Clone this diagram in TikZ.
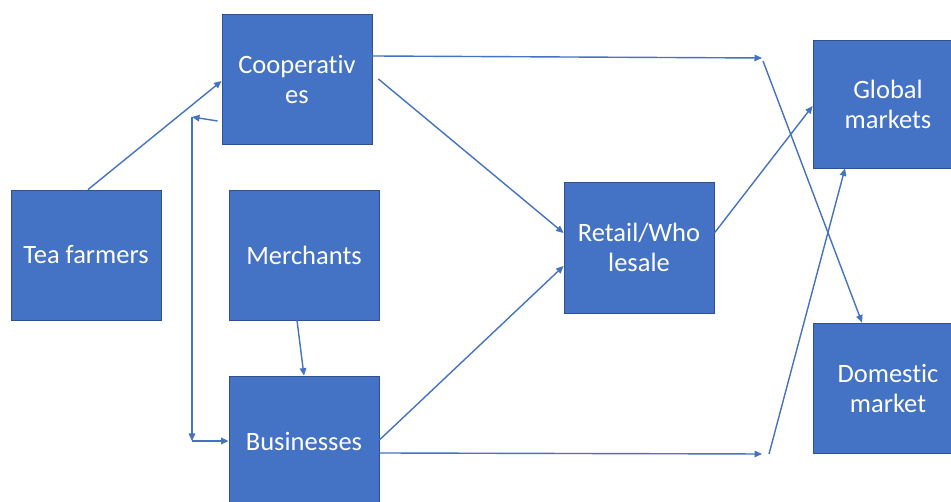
\documentclass[tikz,border=0pt]{standalone}
\usepackage{fontspec}
\setmainfont{Carlito}[Ligatures={NoCommon,NoDiscretionary}]
\usetikzlibrary{arrows.meta}
\definecolor{boxfill}{HTML}{4472C4}
\definecolor{boxedge}{HTML}{2F528F}
\definecolor{flow}{HTML}{4472C4}
\begin{document}
\begin{tikzpicture}[x=1pt,y=1pt,
  block/.style={draw=boxedge, line width=0.8pt, fill=boxfill, text=white,
    minimum width=150pt, minimum height=130pt, inner sep=0pt, align=center,
    font=\fontsize{26.5}{30}\selectfont},
  flowline/.style={draw=flow, line width=1.4pt,
    -{Triangle[length=7.5pt,width=6.5pt]}}]
\useasboundingbox (0,0) rectangle (951,502);
\clip (0,0) rectangle (951,502);
\fill[white] (0,0) rectangle (951,502);

% organisations in the chain
\node[block] (coop)   at (297,423) {Cooperativ\\es};
\node[block] (farm)   at (86,247)  {Tea farmers};
\node[block] (merch)  at (304,247) {Merchants};
\node[block] (bus)    at (304,61)  {Businesses};
\node[block, minimum height=131pt] (retail) at (639,254.5) {Retail/Who\\lesale};
\node[block, minimum height=128pt] (glob)   at (888,398) {Global\\markets};
\node[block] (dom)    at (888,114) {Domestic\\market};

% bend points of the connectors
\coordinate (c1) at (192,385);
\coordinate (c2) at (192,61);
\coordinate (j1) at (762,444);
\coordinate (j1b) at (763,441);
\coordinate (j2) at (762,48);
\coordinate (j2b) at (769,48);

% flows
\draw[flowline] ([xshift=2pt]farm.north) -- ([yshift=-2pt]coop.west);
\draw[flowline] ([shift={(-4pt,-42pt)}]coop.west) -- (c1);
\draw[flowline] (c1) -- (c2);
\draw[flowline] (c2) -- (bus.west);
\draw[flowline] ([yshift=23pt]coop.east) -- (j1);
\draw[flowline] (j1b) -- ([xshift=-26pt]dom.north);
\draw[flowline] ([xshift=6pt]coop.east) -- ([yshift=14.5pt]retail.west);
\draw[flowline] ([xshift=-7pt]merch.south) -- (bus.north);
\draw[flowline] ([yshift=1pt]bus.east) -- ([yshift=-18.5pt]retail.west);
\draw[flowline] ([yshift=-12pt]bus.east) -- (j2);
\draw[flowline] (j2b) -- ([xshift=-43pt]glob.south);
\draw[flowline] ([yshift=14.5pt]retail.east) -- ([yshift=-2pt]glob.west);
\end{tikzpicture}
\end{document}
